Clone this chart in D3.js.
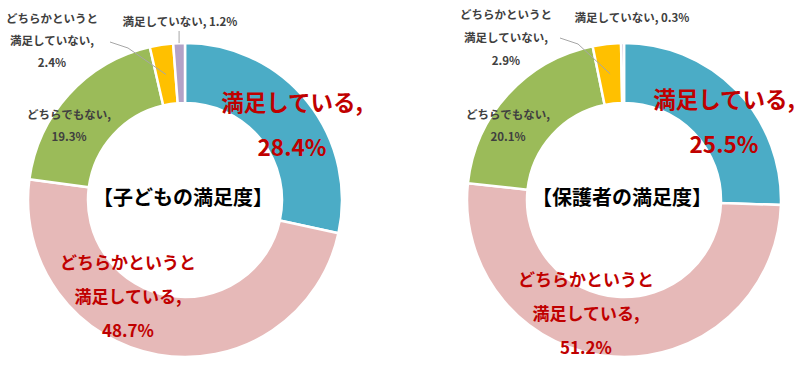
<!DOCTYPE html>
<html>
<head>
<meta charset="utf-8">
<script src="https://cdn.jsdelivr.net/npm/d3@7"></script>
<style>
  body { margin: 0; background: #fff; }
  text { font-family: 'Noto Sans CJK JP', sans-serif; font-weight: bold; }
</style>
</head>
<body>
<div id="chart"></div>
<script>
const w = 811;
const h = 370;

// answer categories, in drawing order (clockwise from 12 o'clock)
const categories = [
  '満足している',
  'どちらかというと満足している',
  'どちらでもない',
  'どちらかというと満足していない',
  '満足していない'
];
const childValues = [28.4, 48.7, 19.3, 2.4, 1.2];
const parentValues = [25.5, 51.2, 20.1, 2.9, 0.3];
const chartTitles = ['【子どもの満足度】', '【保護者の満足度】'];

const colors = ['#4bacc6', '#e6b9b8', '#9bbb59', '#ffc000', '#b3a2c7'];
const outerR = 157;
const innerR = 97;

// label lines per category: the long names are broken like in the original
const labelLines = (cat, v) => {
  const pct = v.toFixed(1) + '%';
  if (cat === '満足している') return [cat + ',', pct];
  if (cat === '満足していない') return [cat + ', ' + pct];
  if (cat.startsWith('どちらかというと')) return ['どちらかというと', cat.slice(8) + ',', pct];
  return [cat + ',', pct];
};

// label placement per chart: [dx, dy of first line, line gap, font size, colour]
const charts = [
  {
    cx: 185, cy: 200, values: childValues, title: chartTitles[0],
    labels: [
      [107, -97, 45, 22.5, '#c00000'],
      [-57, 63, 34, 17, '#c00000'],
      [-116, -85, 22, 11.5, '#404040'],
      [-133, -181, 22, 11.5, '#404040'],
      [-5, -178, 0, 11.5, '#404040']
    ],
    yellowLeader: [-75, -158], purpleLeader: true
  },
  {
    cx: 624, cy: 200, values: parentValues, title: chartTitles[1],
    labels: [
      [100, -100, 45, 22.5, '#c00000'],
      [-38, 80, 34, 17, '#c00000'],
      [-116, -85, 22, 11.5, '#404040'],
      [-118, -185, 23, 11.5, '#404040'],
      [8, -182, 0, 11.5, '#404040']
    ],
    yellowLeader: [-64, -162], purpleLeader: false
  }
];

const pie = d3.pie().sort(null).value((d) => d);
const arc = d3.arc().innerRadius(innerR).outerRadius(outerR);
const outerPt = d3.arc().innerRadius(outerR).outerRadius(outerR);

const svg = d3
  .select('#chart')
  .append('svg')
  .attr('width', w)
  .attr('height', h);

charts.forEach((c) => {
  const g = svg.append('g').attr('transform', `translate(${c.cx}, ${c.cy})`);
  const arcs = pie(c.values);

  g.selectAll('path')
    .data(arcs)
    .enter()
    .append('path')
    .attr('d', arc)
    .attr('fill', (d, i) => colors[i])
    .attr('stroke', '#fff')
    .attr('stroke-width', 2.5);

  // leader lines for the two thin slices
  const yc = arc.centroid(arcs[3]);
  const [lx, ly] = c.yellowLeader;
  g.append('polyline')
    .attr('points', `${lx},${ly} ${lx + 18},${ly + 6} ${yc[0]},${yc[1]}`)
    .attr('fill', 'none')
    .attr('stroke', '#a6a6a6')
    .attr('stroke-width', 1);

  if (c.purpleLeader) {
    const pc = outerPt.centroid(arcs[4]);
    g.append('line')
      .attr('x1', pc[0])
      .attr('y1', c.labels[4][1] + 9)
      .attr('x2', pc[0])
      .attr('y2', pc[1])
      .attr('stroke', '#a6a6a6')
      .attr('stroke-width', 1);
  }

  g.append('text')
    .attr('x', -2)
    .attr('y', -2)
    .attr('dy', '0.35em')
    .attr('text-anchor', 'middle')
    .attr('font-size', 20)
    .attr('fill', '#000')
    .text(c.title);

  arcs.forEach((d, i) => {
    const [dx, dy, gap, size, col] = c.labels[i];
    const t = g.append('text')
      .attr('text-anchor', 'middle')
      .attr('font-size', size)
      .attr('fill', col);
    labelLines(categories[i], c.values[i]).forEach((line, k) => {
      t.append('tspan')
        .attr('x', dx)
        .attr('y', dy + k * gap)
        .attr('dy', '0.35em')
        .text(line);
    });
  });
});
</script>
</body>
</html>
